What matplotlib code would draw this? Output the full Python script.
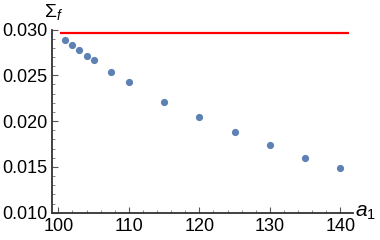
import matplotlib
matplotlib.use("Agg")
import matplotlib.pyplot as plt
from matplotlib.ticker import MultipleLocator, FormatStrFormatter

plt.rcParams['font.family'] = ['Liberation Sans', 'DejaVu Sans']
plt.rcParams['mathtext.fontset'] = 'custom'
plt.rcParams['mathtext.rm'] = 'Liberation Sans'
plt.rcParams['mathtext.it'] = 'Liberation Sans:italic'

a1 = [101, 102, 103, 104, 105, 107.5, 110, 115, 120, 125, 130, 135, 140]
sigma_f = [0.02885, 0.02831, 0.02776, 0.02714, 0.02670, 0.02539, 0.02430,
           0.02212, 0.02041, 0.01877, 0.01735, 0.01600, 0.01491]
line_x = [100.3, 141.2]
line_level = 0.02959

x_ticks = [100, 110, 120, 130, 140]
y_ticks = [0.010, 0.015, 0.020, 0.025, 0.030]

fig = plt.figure(figsize=(3.8, 2.4), dpi=100)
ax = fig.add_axes([52/380, 1-212.7/240, (353-52)/380, (212.7-29.5)/240])

ax.plot(line_x, [line_level, line_level], color='#FF0000', lw=1.6, solid_capstyle='butt')
ax.plot(a1, sigma_f, 'o', color='#5E81B5', ms=5.2, mec='none')

ax.set_xlim(99.1, 141.8)
ax.set_ylim(0.010, 0.030)
ax.set_xticks(x_ticks)
ax.set_yticks(y_ticks)
ax.yaxis.set_major_formatter(FormatStrFormatter('%.3f'))
ax.xaxis.set_minor_locator(MultipleLocator(2))
ax.yaxis.set_minor_locator(MultipleLocator(0.001))

for s in ['top', 'right']:
    ax.spines[s].set_visible(False)
for s in ['left', 'bottom']:
    ax.spines[s].set_color('#333333')
    ax.spines[s].set_linewidth(1.3)

ax.tick_params(which='major', direction='in', length=4, width=0.8, color='#555555',
               labelsize=13, labelcolor='black')
ax.tick_params(which='minor', direction='in', length=2, width=0.6, color='#777777')
ax.tick_params(axis='x', which='major', pad=3.5)
ax.tick_params(axis='y', which='major', pad=3)

fig.text(44/380, 1-12/240, r'$\Sigma_f$', fontsize=14, ha='left', va='center')
fig.text(355/380, 1-213/240, r'$a_1$', fontsize=15, ha='left', va='center')

fig.savefig('out.png', dpi=100)
